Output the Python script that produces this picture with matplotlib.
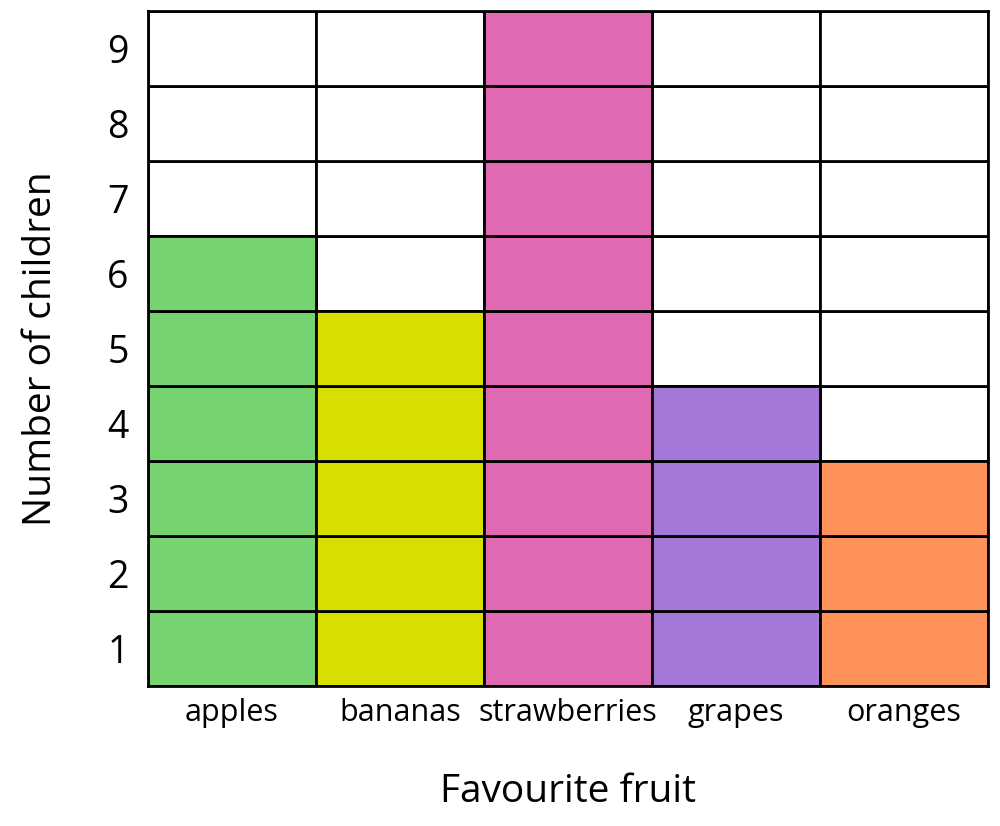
import matplotlib.pyplot as plt
import numpy as np

FRUITS = ["apples", "bananas", "strawberries", "grapes", "oranges"]
CHILDREN = [6, 5, 9, 4, 3]
COLOURS = ["#75D46F", "#D8DE00", "#E06AB2", "#A478D8", "#FF915A"]
Y_TICKS = [1, 2, 3, 4, 5, 6, 7, 8, 9]

plt.rcParams["font.family"] = ["Open Sans", "DejaVu Sans"]

fig = plt.figure(figsize=(10, 8.26), dpi=100)
ax = fig.add_axes([0.148, 0.1695, 0.84, 0.8172])

x = np.arange(len(FRUITS))
top = max(Y_TICKS)

# empty grid cells
for level in range(top):
    ax.bar(x, 1, bottom=level, width=1, color="white", edgecolor="black", linewidth=2)

# filled blocks, one per child
for i, (count, colour) in enumerate(zip(CHILDREN, COLOURS)):
    for level in range(count):
        ax.bar(i, 1, bottom=level, width=1, color=colour, edgecolor="black", linewidth=2)

ax.set_xlim(-0.5, len(FRUITS) - 0.5)
ax.set_ylim(0, top)
ax.set_xticks(x)
ax.set_xticklabels(FRUITS, fontsize=22)
ax.set_yticks(np.array(Y_TICKS) - 0.5)
ax.set_yticklabels([str(v) for v in Y_TICKS], fontsize=27)
ax.tick_params(length=0)
ax.tick_params(axis="y", pad=14)
ax.tick_params(axis="x", pad=9)
for spine in ax.spines.values():
    spine.set_linewidth(2)

ax.set_xlabel("Favourite fruit", fontsize=28, labelpad=32)
ax.set_ylabel("Number of children", fontsize=28, labelpad=34)

fig.savefig("out.png", dpi=100)
